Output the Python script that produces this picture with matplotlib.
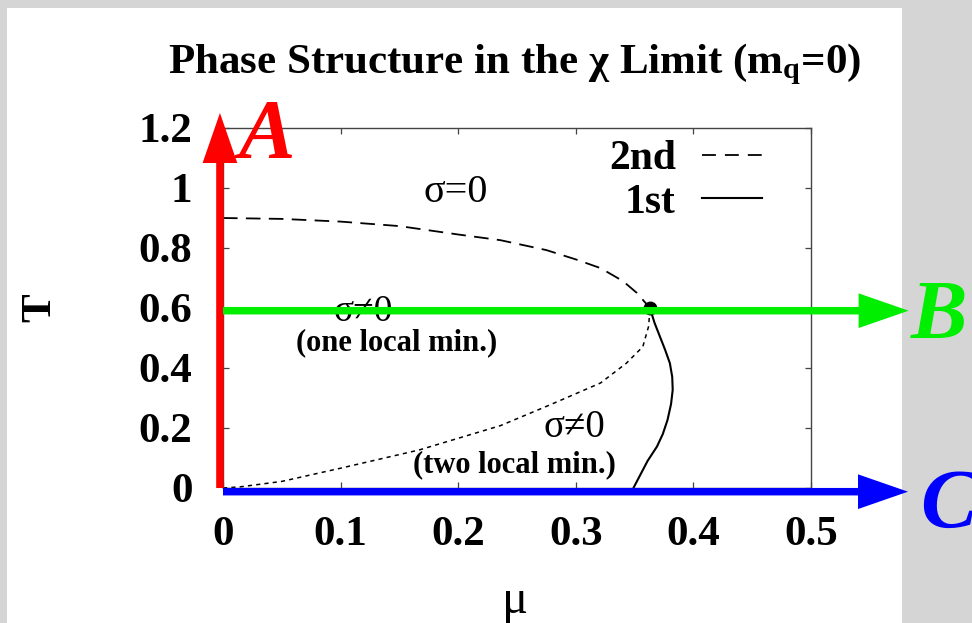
import matplotlib
matplotlib.use("Agg")
import matplotlib.pyplot as plt
from matplotlib.lines import Line2D
from matplotlib.patches import Rectangle

plt.rcParams['font.family'] = ['Liberation Serif', 'DejaVu Serif']
plt.rcParams['mathtext.fontset'] = 'custom'
plt.rcParams['mathtext.rm'] = 'Liberation Serif:bold'
plt.rcParams['mathtext.it'] = 'Liberation Serif:bold'
plt.rcParams['lines.scale_dashes'] = False

# 2nd order line (dashed), mu -> T
mu_2nd = [0.0, 0.05, 0.10, 0.15, 0.20, 0.236, 0.275, 0.30, 0.321, 0.34, 0.352, 0.363]
T_2nd = [0.90, 0.897, 0.888, 0.873, 0.845, 0.826, 0.793, 0.762, 0.733, 0.69, 0.65, 0.60]

# spinodal-like dotted line
mu_dot = [0.0, 0.015, 0.05, 0.10, 0.167, 0.236, 0.278, 0.321, 0.343, 0.357, 0.362, 0.363]
T_dot = [0.0, 0.004, 0.022, 0.066, 0.127, 0.208, 0.277, 0.35, 0.416, 0.471, 0.54, 0.60]

# 1st order line (solid)
T_1st = [0.60, 0.55, 0.504, 0.46, 0.416, 0.37, 0.327, 0.28, 0.227, 0.18, 0.138, 0.09, 0.045, 0.0]
mu_1st = [0.363, 0.367, 0.3716, 0.376, 0.380, 0.382, 0.3824, 0.381, 0.378, 0.374, 0.369, 0.361, 0.355, 0.349]

crit_mu, crit_T = 0.363, 0.60

xticks = [0, 0.1, 0.2, 0.3, 0.4, 0.5]
xticklabels = ['0', '0.1', '0.2', '0.3', '0.4', '0.5']
yticks = [0, 0.2, 0.4, 0.6, 0.8, 1.0, 1.2]
yticklabels = ['0', '0.2', '0.4', '0.6', '0.8', '1', '1.2']

W, H = 972, 623
fig = plt.figure(figsize=(W / 100, H / 100), dpi=100)
fig.patch.set_facecolor('#d5d5d5')
fig.patches.append(Rectangle((7 / W, 0), (902 - 7) / W, 1 - 8 / H,
                             transform=fig.transFigure, facecolor='white',
                             edgecolor='none', zorder=-10))

ax = fig.add_axes([223 / W, 1 - 488 / H, (811 - 223) / W, 360 / H])
ax.set_xlim(0, 0.5)
ax.set_ylim(0, 1.2)
ax.set_facecolor('none')

ax.plot(mu_2nd, T_2nd, color='black', lw=1.3, dashes=(10.5, 6))
ax.plot(mu_dot, T_dot, color='black', lw=1.1, dashes=(3, 3))
ax.plot(mu_1st, T_1st, color='black', lw=1.5)
ax.plot([crit_mu], [crit_T], 'o', color='black', ms=9, zorder=4)

for s in ax.spines.values():
    s.set_color('#444444')
    s.set_linewidth(1.0)
ax.tick_params(direction='in', length=4.5, width=0.9, color='#444444',
               top=True, right=True, labelsize=31)
ax.tick_params(axis='x', pad=20)
ax.tick_params(axis='y', pad=22)
ax.set_xticks(xticks)
ax.set_xticklabels(xticklabels, fontweight='bold')
ax.set_yticks(yticks)
ax.set_yticklabels(yticklabels, fontweight='bold')

ax.set_xlabel('μ', fontsize=35, va='baseline')
ax.xaxis.set_label_coords((515 - 223) / 588, (488 - 613) / 360)
ax.set_ylabel('T', fontsize=31, fontweight='bold', va='center')
ax.yaxis.set_label_coords((40 - 223) / 588, 0.5)

handles = [Line2D([], [], color='black', lw=1.3, dashes=(10, 6.5)),
           Line2D([], [], color='black', lw=1.5)]
ax.legend(handles, ['2nd', '1st'], loc='upper right', markerfirst=False,
          frameon=False, bbox_to_anchor=((762 - 223) / 588, (488 - 140) / 360),
          prop={'weight': 'bold', 'size': 30}, handlelength=1.43,
          handletextpad=0.64, labelspacing=0.13, borderpad=0, borderaxespad=0)

ax.text(0.198, 0.953, 'σ=0', fontsize=29, ha='center', va='baseline')
ax.text(0.119, 0.555, 'σ≠0', fontsize=27, ha='center', va='baseline')
ax.text(0.148, 0.458, '(one local min.)', fontsize=22, fontweight='bold',
        ha='center', va='baseline')
ax.text(0.299, 0.17, 'σ≠0', fontsize=28, ha='center', va='baseline')
ax.text(0.2475, 0.053, '(two local min.)', fontsize=22, fontweight='bold',
        ha='center', va='baseline')


def big_arrow(start, end, color):
    ax.annotate('', xy=end, xytext=start, xycoords='data', textcoords='data',
                annotation_clip=False,
                arrowprops=dict(arrowstyle='simple,head_length=3.6,head_width=2.5,tail_width=0.54',
                                mutation_scale=10, lw=0, fc=color, ec='none',
                                shrinkA=0, shrinkB=0), zorder=6)


big_arrow((-0.0026, 0.0), (-0.0026, 1.25), '#ff0000')
big_arrow((0.0, 0.591), (0.583, 0.591), '#00ee00')
big_arrow((0.0, -0.0123), (0.5825, -0.0123), '#0000ff')

fig.text(238 / W, 1 - 158 / H, 'A', color='#ff0000', fontsize=61,
         fontweight='bold', fontstyle='italic', ha='left', va='baseline')
fig.text(911 / W, 1 - 339 / H, 'B', color='#00ee00', fontsize=61,
         fontweight='bold', fontstyle='italic', ha='left', va='baseline')
fig.text(920 / W, 1 - 528 / H, 'C', color='#0000ff', fontsize=61,
         fontweight='bold', fontstyle='italic', ha='left', va='baseline')

fig.text(515 / W, 1 - 73 / H, 'Phase Structure in the χ Limit (m$_{q}$=0)',
         fontsize=31, fontweight='bold', ha='center', va='baseline')

fig.savefig('out.png', dpi=100, facecolor=fig.get_facecolor())
